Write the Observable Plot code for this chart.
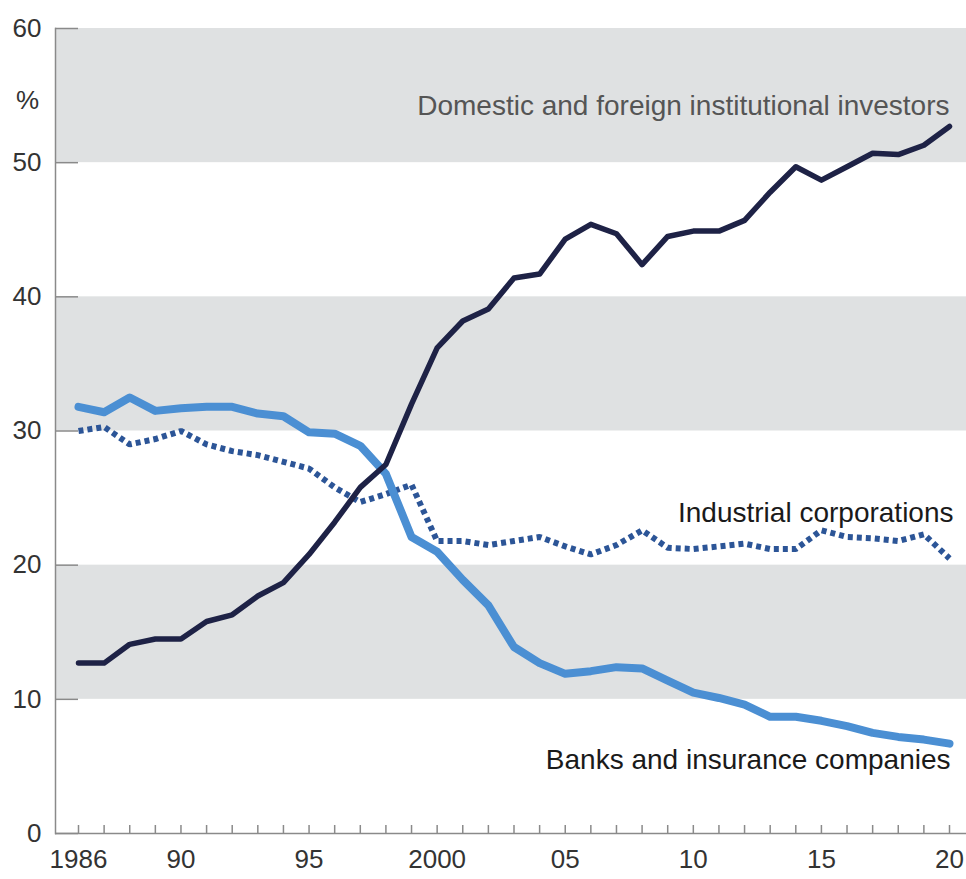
<!DOCTYPE html>
<html>
<head>
<meta charset="utf-8">
<script src="https://cdn.jsdelivr.net/npm/d3@7"></script>
<script src="https://cdn.jsdelivr.net/npm/@observablehq/plot@0.6"></script>
<style>
  html, body { margin: 0; padding: 0; background: #fff; }
  #chart svg { display: block; font-family: "Liberation Sans", Arial, sans-serif; }
</style>
</head>
<body>
<div id="chart"></div>
<script>
const years = d3.range(1986, 2021);
const institutional = [12.7, 12.7, 14.1, 14.5, 14.5, 15.8, 16.3, 17.7, 18.7, 20.8, 23.2,
  25.8, 27.5, 32.0, 36.2, 38.2, 39.1, 41.4, 41.7, 44.3, 45.4, 44.7, 42.4, 44.5, 44.9,
  44.9, 45.7, 47.8, 49.7, 48.7, 49.7, 50.7, 50.6, 51.3, 52.7];
const banks = [31.8, 31.4, 32.5, 31.5, 31.7, 31.8, 31.8, 31.3, 31.1, 29.9, 29.8,
  28.9, 26.8, 22.1, 21.0, 18.9, 17.0, 13.9, 12.7, 11.9, 12.1, 12.4, 12.3, 11.4, 10.5,
  10.1, 9.6, 8.7, 8.7, 8.4, 8.0, 7.5, 7.2, 7.0, 6.7];
const industrial = [30.0, 30.3, 29.0, 29.4, 30.0, 29.0, 28.5, 28.2, 27.7, 27.2, 25.8,
  24.7, 25.3, 26.0, 21.8, 21.8, 21.5, 21.8, 22.1, 21.4, 20.8, 21.5, 22.6, 21.3, 21.2,
  21.4, 21.6, 21.2, 21.2, 22.6, 22.1, 22.0, 21.8, 22.3, 20.5];
const bandLow = [10, 30, 50];
const bandHigh = [20, 40, 60];
const yTicks = [0, 10, 20, 30, 40, 50, 60];
const xLabelYears = [1986, 1990, 1995, 2000, 2005, 2010, 2015, 2020];
const xLabels = ["1986", "90", "95", "2000", "05", "10", "15", "20"];
const seriesNames = ["Domestic and foreign institutional investors", "Industrial corporations", "Banks and insurance companies"];

const rows = (vals) => years.map((y, i) => ({year: y, value: vals[i]}));
const bands = bandLow.map((lo, i) => ({lo, hi: bandHigh[i]}));
const labelMap = new Map(xLabelYears.map((y, i) => [y, xLabels[i]]));

const plot = Plot.plot({
  width: 966,
  height: 879,
  marginLeft: 55,
  marginRight: 0,
  marginTop: 28,
  marginBottom: 46,
  style: {fontFamily: "'Liberation Sans', Arial, sans-serif", fontSize: "26px", color: "#333", background: "#fff"},
  x: {domain: [1986, 2020], range: [78, 949]},
  y: {domain: [0, 60]},
  marks: [
    Plot.rect(bands, {y1: "lo", y2: "hi", fill: "#dfe1e2"}),
    Plot.ruleY([0], {stroke: "#8a8a8a", strokeWidth: 1.5}),
    Plot.frame({anchor: "left", stroke: "#8a8a8a", strokeWidth: 1.5}),
    Plot.axisY(yTicks, {tickSize: -23, tickPadding: 37, stroke: "#8a8a8a", strokeWidth: 1.5, fill: "#333", fontSize: 26, label: null}),
    Plot.axisX(years, {tickSize: -8, tickPadding: 24, stroke: "#8a8a8a", strokeWidth: 1.5, fill: "#333", fontSize: 26,
      tickFormat: (d) => labelMap.get(d) ?? "", label: null}),
    Plot.text(["%"], {frameAnchor: "top-left", dx: -28, dy: 62, fontSize: 26, fill: "#333", textAnchor: "middle"}),
    Plot.line(rows(industrial), {x: "year", y: "value", stroke: "#2c5597", strokeWidth: 6, strokeDasharray: "5,4", strokeLinecap: "butt", strokeLinejoin: "miter"}),
    Plot.line(rows(banks), {x: "year", y: "value", stroke: "#4b8fd3", strokeWidth: 8, strokeLinejoin: "round", strokeLinecap: "round"}),
    Plot.line(rows(institutional), {x: "year", y: "value", stroke: "#1e2246", strokeWidth: 5.5, strokeLinejoin: "round", strokeLinecap: "round"}),
    Plot.text([seriesNames[0]], {x: 2020, y: 54.2, text: (d) => d, textAnchor: "end", fontSize: 28, fill: "#555"}),
    Plot.text([seriesNames[1]], {x: 2020, y: 23.9, dx: 4, text: (d) => d, textAnchor: "end", fontSize: 28, fill: "#1a1a1a"}),
    Plot.text([seriesNames[2]], {x: 2020, y: 5.5, dx: 1, text: (d) => d, textAnchor: "end", fontSize: 28, fill: "#1a1a1a"})
  ]
});
document.getElementById("chart").appendChild(plot);
</script>
</body>
</html>
